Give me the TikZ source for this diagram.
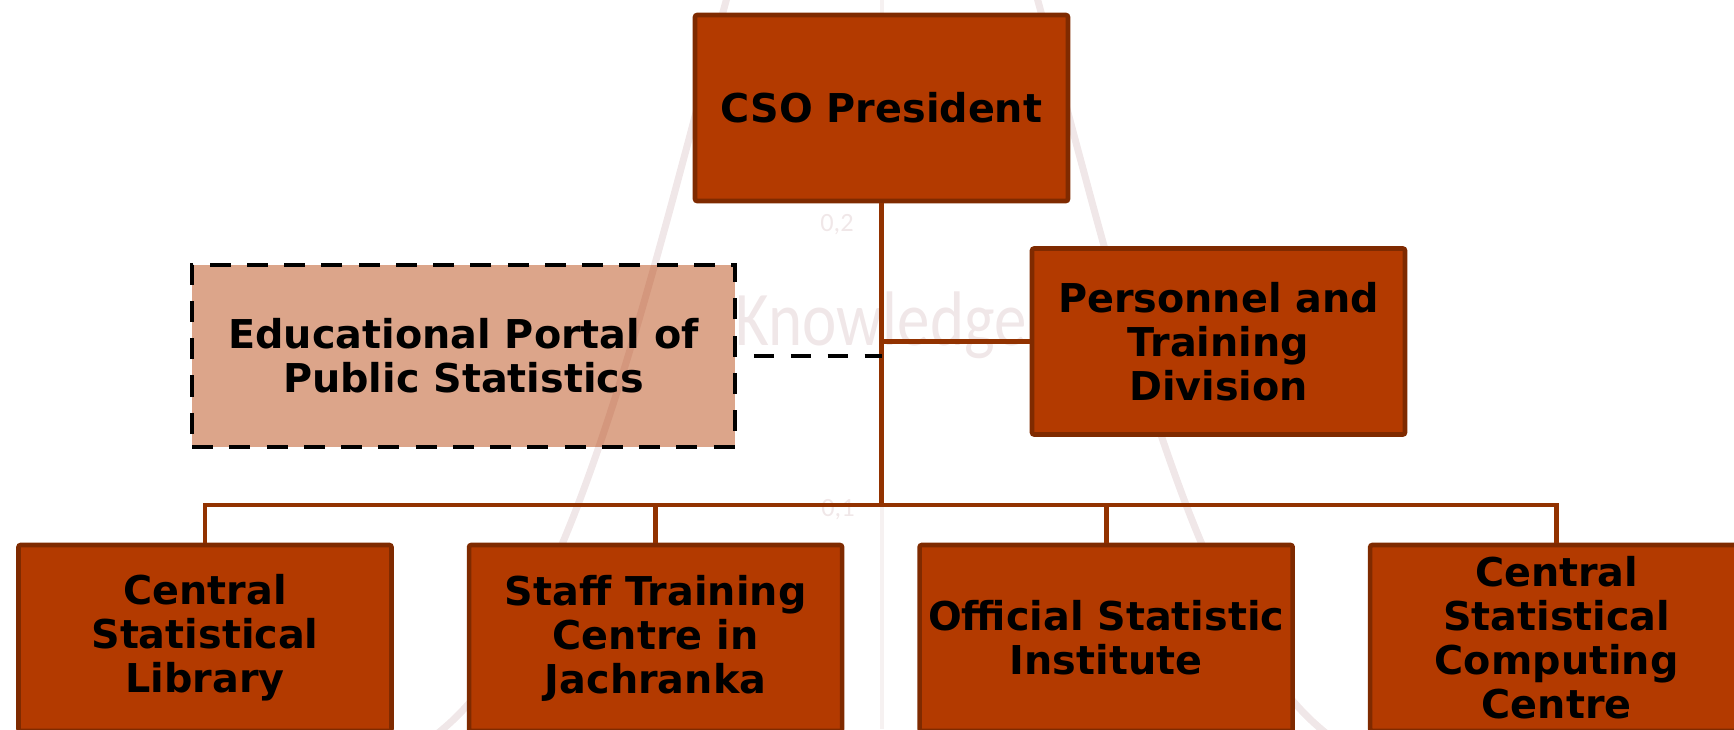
\documentclass[tikz,border=0pt]{standalone}
\usepackage{fontspec}
\setmainfont{DejaVu Sans}
\newfontfamily\wmfont{Carlito}
\usetikzlibrary{positioning,calc}
\definecolor{unitfill}{RGB}{179,58,0}
\definecolor{unitline}{RGB}{127,42,0}
\definecolor{linkcol}{RGB}{146,50,0}
\definecolor{wmark}{RGB}{240,231,232}
\tikzset{unitbox/.style={draw=unitline, fill=unitfill, line width=1.3pt, rounded corners=0.6pt, minimum width=3.73cm, minimum height=1.86cm, align=center, inner sep=0pt, font=\bfseries\fontsize{11.3}{12.5}\selectfont}}
\tikzset{portalbox/.style={unitbox, sharp corners, draw=black, fill opacity=0.46, text opacity=1, line width=1.15pt, dash pattern=on 6pt off 4.6pt, minimum width=5.43cm, minimum height=1.82cm}}
\tikzset{link/.style={draw=linkcol, line width=1.4pt}}
\tikzset{dlink/.style={draw=black, line width=1.15pt, dash pattern=on 5.7pt off 4.8pt, dash phase=5.7pt}}
\tikzset{wline/.style={draw=wmark, line width=2pt}}
\tikzset{wtext/.style={text=wmark, inner sep=0pt, font=\wmfont}}

\begin{document}
\begin{tikzpicture}
			\useasboundingbox (0,0) rectangle (17.34,7.29);
			\clip (0,0) rectangle (17.34,7.29);
			% faint watermark
			\draw[wline, line width=1.4pt, draw=wmark!60] (8.82,0) -- (8.82,7.29);
			\draw[wline] plot[domain=0.8:2.45, samples=60, smooth] ({8.82-1.84*\x}, {-0.66+11.37*exp(-\x*\x/2)});
			\draw[wline] plot[domain=0.8:2.45, samples=60, smooth] ({8.82+1.84*\x}, {-0.66+11.37*exp(-\x*\x/2)});
			\node[wtext, anchor=base west, xscale=0.84, transform shape, font=\wmfont\fontsize{22}{22}\selectfont] (kn) at (7.35,3.84) {Knowledge};
			\node[wtext, font=\wmfont\fontsize{7.5}{7.5}\selectfont] (tick2) at (8.37,5.04) {0,2};
			\node[wtext, font=\wmfont\fontsize{7.5}{7.5}\selectfont] (tick1) at (8.38,2.19) {0,1};
			%
			\node[unitbox] (cso) at (8.815,6.21) {CSO President};
			\node[unitbox] (ptd) at (12.185,3.875) {Personnel and\\Training\\Division};
			\node[portalbox] (edu) at (4.635,3.73) {Educational Portal of\\Public Statistics};
			\node[unitbox] (csl) at (2.05,0.91) {Central\\Statistical\\Library};
			\node[unitbox, right=0.73 of csl] (stc) {Staff Training\\Centre in\\Jachranka};
			\node[unitbox, right=0.73 of stc] (osi) {Official Statistic\\Institute};
			\node[unitbox, right=0.73 of osi] (cscc) {Central\\Statistical\\Computing\\Centre};
			%
			\coordinate (hub) at (cso.south |- 0,2.24);
			\draw[link] (cso.south) -- (hub);
			\draw[link] (ptd.west) -- (ptd.west -| cso.south);
			\draw[dlink] (edu.east) -- (edu.east -| cso.south);
			\draw[link] (csl.north) |- (hub) -| (cscc.north);
			\draw[link] (stc.north) -- (stc.north |- hub);
			\draw[link] (osi.north) -- (osi.north |- hub);
		\end{tikzpicture}
\end{document}
